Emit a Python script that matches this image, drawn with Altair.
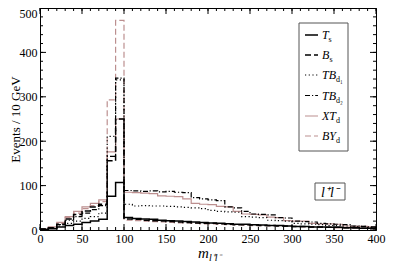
import altair as alt
import pandas as pd

# ---------------- data (10 GeV bins, 0-400 GeV) ----------------
bin_edges = list(range(0, 410, 10))
T_s = [1, 3, 7, 10, 13, 17, 20, 24, 76, 107, 28, 26, 25, 24, 22, 21, 20, 19, 18, 17,
       16, 15, 14, 13, 13, 12, 11, 10, 10, 9, 8, 8, 7, 7, 6, 6, 5, 5, 4, 4]
B_s = [2, 5, 13, 25, 35, 43, 52, 58, 156, 250, 25, 24, 22, 21, 20, 19, 18, 17, 16, 15,
       15, 14, 13, 12, 12, 11, 10, 10, 9, 9, 8, 8, 7, 7, 6, 6, 5, 5, 4, 4]
TB_d1 = [1, 4, 9, 15, 20, 26, 30, 38, 211, 338, 58, 54, 55, 54, 54, 53, 52, 51, 50, 48,
         44, 42, 41, 40, 30, 29, 28, 22, 21, 20, 15, 14, 13, 12, 10, 10, 9, 8, 8, 6]
TB_d2 = [2, 5, 12, 22, 30, 38, 46, 55, 166, 342, 89, 88, 87, 88, 86, 87, 85, 84, 73, 70,
         68, 66, 52, 50, 42, 36, 35, 34, 28, 27, 20, 19, 18, 15, 14, 13, 12, 9, 8, 7]
XT_d = [2, 7, 17, 30, 42, 52, 60, 68, 176, 250, 85, 84, 83, 82, 77, 76, 75, 70, 60, 58,
        57, 53, 52, 42, 36, 35, 34, 29, 28, 21, 20, 20, 15, 14, 14, 13, 9, 8, 8, 7]
BY_d = [2, 6, 15, 28, 38, 48, 55, 64, 293, 472, 22, 21, 20, 19, 18, 17, 16, 16, 15, 14,
        14, 13, 12, 12, 11, 10, 10, 9, 9, 8, 8, 7, 7, 6, 6, 5, 5, 4, 4, 3]

series_names = ["T_s", "B_s", "TB_d1", "TB_d2", "XT_d", "BY_d"]
series_values = [T_s, B_s, TB_d1, TB_d2, XT_d, BY_d]
legend_main = ["T", "B", "TB", "TB", "XT", "BY"]
legend_sub = ["s", "s", "d\u2081", "d\u2082", "d", "d"]

x_ticks_major = [0, 50, 100, 150, 200, 250, 300, 350, 400]
x_ticks_minor = list(range(0, 410, 10))
y_ticks_major = [0, 100, 200, 300, 400, 500]
y_ticks_minor = list(range(0, 520, 20))

# ---------------- styles ----------------
W, H = 336, 222
PAD_L, PAD_R, PAD_T, PAD_B = 32, 10, 0, 33
FONT = "Liberation Serif"
PINK = "#bc8f8f"
styles = {
    "T_s": dict(color="black", dash=[1, 0], width=1.5),
    "B_s": dict(color="black", dash=[6, 3], width=1.5),
    "TB_d1": dict(color="black", dash=[1.2, 2.5], width=1.2),
    "TB_d2": dict(color="black", dash=[5, 2, 1.2, 2], width=1.2),
    "XT_d": dict(color=PINK, dash=[1, 0], width=1.2),
    "BY_d": dict(color=PINK, dash=[6, 3], width=1.2),
}
draw_order = ["XT_d", "BY_d", "TB_d1", "TB_d2", "B_s", "T_s"]

xs = alt.Scale(domain=[0, 400], nice=False, zero=False)
ys = alt.Scale(domain=[0, 500], nice=False)

layers = []
for name in draw_order:
    vals = series_values[series_names.index(name)]
    df = pd.DataFrame({"x": bin_edges, "y": vals + [vals[-1]]})
    st = styles[name]
    layers.append(
        alt.Chart(df).mark_line(interpolate="step-after", color=st["color"],
                                strokeDash=st["dash"], strokeWidth=st["width"])
        .encode(
            x=alt.X("x:Q", scale=xs,
                    axis=alt.Axis(values=x_ticks_major, title=None, ticks=False, tickSize=0,
                                  labelPadding=3, labelFont=FONT, labelFontSize=12,
                                  labelColor="black", domainColor="black", grid=False,
                                  labelFlush=False)),
            y=alt.Y("y:Q", scale=ys,
                    axis=alt.Axis(values=y_ticks_major, title="Events / 10 GeV", ticks=False,
                                  tickSize=0, labelPadding=3, labelFont=FONT, labelFontSize=12,
                                  labelColor="black", domainColor="black", grid=False,
                                  labelBaseline={"condition": {"test": "datum.value == 500",
                                                               "value": "top"},
                                                 "value": "middle"},
                                  titleFont=FONT, titleFontSize=13, titleFontWeight="normal",
                                  titleColor="black", titleX=-25, titleY=H / 2,
                                  titleAngle=270, titleBaseline="middle", titleAlign="center",
                                  labelFlush=False)),
        )
    )

# inward ticks on all four sides
def xticks(vals, length):
    df = pd.DataFrame({"x": vals})
    bot = alt.Chart(df).mark_rule(color="black", strokeWidth=1).encode(
        x=alt.X("x:Q", scale=xs), y=alt.value(H), y2=alt.value(H - length))
    top = alt.Chart(df).mark_rule(color="black", strokeWidth=1).encode(
        x=alt.X("x:Q", scale=xs), y=alt.value(0), y2=alt.value(length))
    return [bot, top]

def yticks(vals, length):
    df = pd.DataFrame({"y": vals})
    left = alt.Chart(df).mark_rule(color="black", strokeWidth=1).encode(
        y=alt.Y("y:Q", scale=ys), x=alt.value(0), x2=alt.value(length))
    right = alt.Chart(df).mark_rule(color="black", strokeWidth=1).encode(
        y=alt.Y("y:Q", scale=ys), x=alt.value(W), x2=alt.value(W - length))
    return [left, right]

tick_layers = xticks(x_ticks_minor, 3) + xticks(x_ticks_major, 6) + \
    yticks(y_ticks_minor, 3) + yticks(y_ticks_major, 6)

# legend box
LX0, LX1, LY0, LY1 = 259, 308, 15, 143
row_y = [27, 47, 67, 87.5, 108, 128]
legend_layers = [
    alt.Chart(pd.DataFrame({"a": [0]})).mark_rect(fill="white", stroke="#555555", strokeWidth=1)
    .encode(x=alt.value(LX0), x2=alt.value(LX1), y=alt.value(LY0), y2=alt.value(LY1))
]
main_w = {"T": 6.5, "B": 7.5, "TB": 14, "XT": 14, "BY": 14}
for i, name in enumerate(series_names):
    st = styles[name]
    legend_layers.append(
        alt.Chart(pd.DataFrame({"a": [0]})).mark_rule(color=st["color"], strokeDash=st["dash"],
                                                      strokeWidth=st["width"])
        .encode(x=alt.value(LX0 + 6), x2=alt.value(LX0 + 19), y=alt.value(row_y[i]))
    )
    legend_layers.append(
        alt.Chart(pd.DataFrame({"t": [legend_main[i]]})).mark_text(
            font=FONT, fontSize=12, fontStyle="italic", align="left", baseline="alphabetic",
            color="black")
        .encode(text="t:N", x=alt.value(LX0 + 23), y=alt.value(row_y[i] + 4))
    )
    legend_layers.append(
        alt.Chart(pd.DataFrame({"t": [legend_sub[i]]})).mark_text(
            font=FONT, fontSize=8, align="left", baseline="alphabetic", color="black")
        .encode(text="t:N", x=alt.value(LX0 + 23 + main_w[legend_main[i]]),
                y=alt.value(row_y[i] + 7))
    )

# l+l- label box
BX0, BX1, BY0, BY1 = 275, 305, 175, 192
box_layers = [
    alt.Chart(pd.DataFrame({"a": [0]})).mark_rect(fill="white", stroke="#555555", strokeWidth=1)
    .encode(x=alt.value(BX0), x2=alt.value(BX1), y=alt.value(BY0), y2=alt.value(BY1)),
    alt.Chart(pd.DataFrame({"t": ["l\u207al\u207b"]})).mark_text(
        font=FONT, fontSize=14, fontStyle="italic", align="center", baseline="middle",
        color="black")
    .encode(text="t:N", x=alt.value((BX0 + BX1) / 2), y=alt.value((BY0 + BY1) / 2 + 1)),
]

# x title: m_{l+l-}
title_layers = [
    alt.Chart(pd.DataFrame({"t": ["m"]})).mark_text(
        font=FONT, fontSize=15, fontStyle="italic", align="left", baseline="alphabetic",
        color="black")
    .encode(text="t:N", x=alt.value(158), y=alt.value(250)),
    alt.Chart(pd.DataFrame({"t": ["l\u207al\u207b"]})).mark_text(
        font=FONT, fontSize=10, fontStyle="italic", align="left", baseline="alphabetic",
        color="black")
    .encode(text="t:N", x=alt.value(169), y=alt.value(253)),
]

chart = alt.layer(*layers, *tick_layers, *legend_layers, *box_layers, *title_layers).properties(
    width=W, height=H, autosize=alt.AutoSizeParams(type="none"),
    padding={"left": PAD_L, "top": PAD_T, "right": PAD_R, "bottom": PAD_B},
    background="white",
).configure_view(stroke="black", strokeWidth=1)

chart.save("out.html", embed_options={"renderer": "svg", "actions": False})
